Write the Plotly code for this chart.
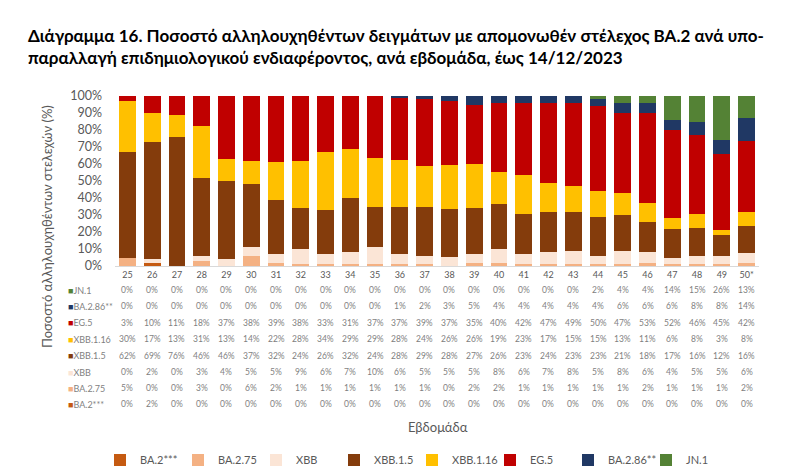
import plotly.graph_objects as go

weeks = ["25", "26", "27", "28", "29", "30", "31", "32", "33", "34", "35", "36", "37",
         "38", "39", "40", "41", "42", "43", "44", "45", "46", "47", "48", "49", "50*"]

ba2 = [0, 2, 0, 0, 0, 0, 0, 0, 0, 0, 0, 0, 0, 0, 0, 0, 0, 0, 0, 0, 0, 0, 0, 0, 0, 0]
ba275 = [5, 0, 0, 3, 0, 6, 2, 1, 1, 1, 1, 1, 1, 0, 2, 2, 1, 1, 1, 1, 1, 2, 1, 1, 1, 2]
xbb = [0, 2, 0, 3, 4, 5, 5, 9, 6, 7, 10, 6, 5, 5, 5, 8, 6, 7, 8, 5, 8, 6, 4, 5, 5, 6]
xbb15 = [62, 69, 76, 46, 46, 37, 32, 24, 26, 32, 24, 28, 29, 28, 27, 26, 23, 24, 23, 23, 21, 18, 17, 16, 12, 16]
xbb116 = [30, 17, 13, 31, 13, 14, 22, 28, 34, 29, 29, 28, 24, 26, 26, 19, 23, 17, 15, 15, 13, 11, 6, 8, 3, 8]
eg5 = [3, 10, 11, 18, 37, 38, 39, 38, 33, 31, 37, 37, 39, 37, 35, 40, 42, 47, 49, 50, 47, 53, 52, 46, 45, 42]
ba286 = [0, 0, 0, 0, 0, 0, 0, 0, 0, 0, 0, 1, 2, 3, 5, 4, 4, 4, 4, 4, 6, 6, 6, 8, 8, 14]
jn1 = [0, 0, 0, 0, 0, 0, 0, 0, 0, 0, 0, 0, 0, 0, 0, 0, 0, 0, 0, 2, 4, 4, 14, 15, 26, 13]

names = ["BA.2***", "BA.2.75", "XBB", "XBB.1.5", "XBB.1.16", "EG.5", "BA.2.86**", "JN.1"]
colors = ["#C55A11", "#F4B183", "#FBE5D6", "#843C0C", "#FFC000", "#C00000", "#203864", "#548235"]
series = [ba2, ba275, xbb, xbb15, xbb116, eg5, ba286, jn1]

FONT = "Lato"
GRAY = "#595959"
TGRAY = "#7F7F7F"

# page offset of the figure inside the browser (default body margin)
OFF = 8
W, H = 800, 476
# target plot area on screen: x 115..759, y 96..266
L = 115 - OFF
T = 96 - OFF
PW, PH = 644, 170
R = W - L - PW
B = H - T - PH


def px_x(p):
    return (p - OFF - L) / PW


def px_y(p):
    return (T + PH - (p - OFF)) / PH


fig = go.Figure()
for name, col, vals in zip(names, colors, series):
    fig.add_trace(go.Bar(x=weeks, y=vals, name=name, marker=dict(color=col, line=dict(width=0))))

annotations = []
# data table (top row first)
row_y = [290, 306, 322.5, 339, 355.5, 372, 388, 404]
for i, idx in enumerate(range(len(names) - 1, -1, -1)):
    yy = px_y(row_y[i])
    annotations.append(dict(
        x=px_x(66), y=yy, xref="paper", yref="paper", xanchor="left", yanchor="middle",
        text='<span style="color:%s">■</span>%s' % (colors[idx], names[idx]),
        showarrow=False, font=dict(family=FONT, size=9, color=TGRAY)))
    for j, v in enumerate(series[idx]):
        annotations.append(dict(
            x=j, y=yy, xref="x", yref="paper", xanchor="center", yanchor="middle",
            text="%d%%" % v, showarrow=False, font=dict(family=FONT, size=8.5, color=TGRAY)))

annotations.append(dict(
    x=px_x(47), y=px_y(227), xref="paper", yref="paper", textangle=-90,
    xanchor="center", yanchor="middle",
    text="Ποσοστό αλληλουχηθέντων στελεχών (%)", showarrow=False,
    font=dict(family=FONT, size=13, color=GRAY)))
annotations.append(dict(
    x=px_x(438), y=px_y(427), xref="paper", yref="paper", xanchor="center", yanchor="middle",
    text="Εβδομάδα", showarrow=False, font=dict(family=FONT, size=13, color=GRAY)))

fig.update_layout(
    width=W, height=H,
    margin=dict(l=L, r=R, t=T, b=B, autoexpand=False),
    paper_bgcolor="white", plot_bgcolor="white",
    barmode="stack", barnorm="percent", bargap=0.325,
    title=dict(
        text="<b>Διάγραμμα 16. Ποσοστό αλληλουχηθέντων δειγμάτων με απομονωθέν στέλεχος BA.2 ανά υπο-"
             "<br>παραλλαγή επιδημιολογικού ενδιαφέροντος, ανά εβδομάδα, έως 14/12/2023</b>",
        x=20 / W, xanchor="left", y=1 - 34 / H, yanchor="top",
        font=dict(family=FONT, size=17, color="black")),
    xaxis=dict(type="category", range=[-0.5, len(weeks) - 0.5], showline=True,
               linecolor="#D9D9D9", linewidth=1, showgrid=False, ticks="", tickangle=0,
               tickfont=dict(family=FONT, size=9, color=GRAY)),
    yaxis=dict(range=[0, 100], dtick=10, ticksuffix="%", showgrid=False, zeroline=False,
               showline=False, ticks="", ticklabelstandoff=12,
               tickfont=dict(family=FONT, size=12.5, color=GRAY)),
    legend=dict(orientation="h", x=px_x(100), xanchor="left", y=px_y(460), yanchor="middle",
                font=dict(family=FONT, size=11, color=GRAY), traceorder="normal",
                entrywidth=33, entrywidthmode="pixels"),
    annotations=annotations,
    showlegend=True,
)

fig.write_html("out.html")
